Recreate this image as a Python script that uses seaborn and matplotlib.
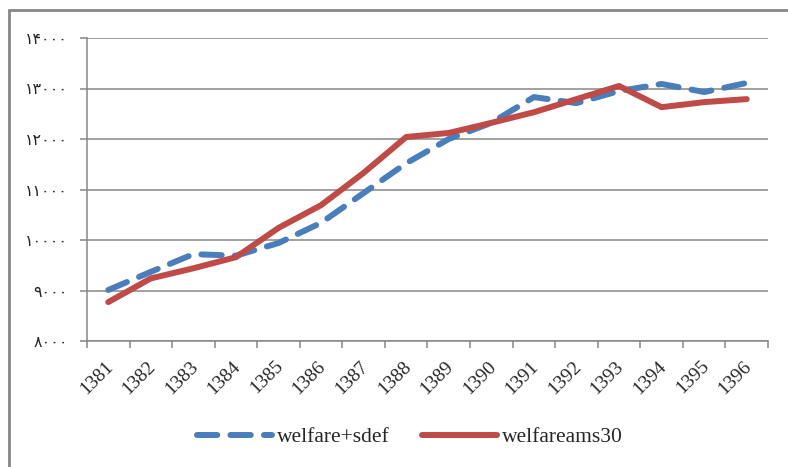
import seaborn as sns
import pandas as pd
import matplotlib.pyplot as plt
import matplotlib.transforms as mtrans
from matplotlib.patches import Rectangle
from matplotlib.lines import Line2D

years = [str(y) for y in range(1381, 1397)]
welfare_sdef = [9010, 9370, 9720, 9690, 9940, 10340, 10930, 11520,
                12000, 12320, 12830, 12710, 12950, 13090, 12930, 13110]
welfare_ams30 = [8770, 9240, 9440, 9660, 10240, 10690, 11330, 12040,
                 12120, 12320, 12530, 12790, 13050, 12630, 12730, 12790]
y_ticks = [8000, 9000, 10000, 11000, 12000, 13000, 14000]
y_labels = ["۸۰۰۰", "۹۰۰۰", "۱۰۰۰۰", "۱۱۰۰۰", "۱۲۰۰۰", "۱۳۰۰۰", "۱۴۰۰۰"]

blue = "#4a7ebb"
red = "#be4b48"
grid_c = "#868686"

df = pd.DataFrame({"year": years, "sdef": welfare_sdef, "ams30": welfare_ams30})

sns.set_style("white")
plt.rcParams["font.family"] = ["Liberation Serif", "DejaVu Sans"]

fig = plt.figure(figsize=(7.88, 4.67), dpi=100)
ax = fig.add_axes([87 / 788, 1 - 341 / 467, (768 - 87) / 788, (341 - 38) / 467])

dash = (0, (3.4, 2.2))
sns.lineplot(data=df, x="year", y="sdef", ax=ax, color=blue, lw=4.3, sort=False)
ax.lines[-1].set_linestyle(dash)
ax.lines[-1].set_dash_capstyle("round")
sns.lineplot(data=df, x="year", y="ams30", ax=ax, color=red, lw=4.3, sort=False)
ax.lines[-1].set_solid_capstyle("round")

ax.set_xlim(-0.5, len(years) - 0.5)
ax.set_ylim(8000, 14000)
ax.set_yticks(y_ticks)
ax.set_yticklabels(y_labels, family=["DejaVu Sans"], fontsize=11.5)
ax.yaxis.grid(True, color=grid_c, lw=1.1)
ax.set_axisbelow(True)

ax.set_xticks(range(len(years)))
ax.set_xticklabels(years, rotation=45, fontsize=14, ha="right",
                   rotation_mode="anchor")
ax.set_xticks([i - 0.5 for i in range(len(years) + 1)], minor=True)
ax.tick_params(axis="x", which="major", length=0, pad=12)
ax.tick_params(axis="x", which="minor", length=5, color=grid_c, width=1.1,
               direction="out", bottom=True)
ax.tick_params(axis="y", length=5, color=grid_c, width=1.1, direction="out",
               left=True, pad=9)
shift = mtrans.ScaledTranslation(-4 / 100, 0, fig.dpi_scale_trans)
for lab in ax.get_xticklabels():
    lab.set_transform(lab.get_transform() + shift)

for s in ["top", "right"]:
    ax.spines[s].set_visible(False)
for s in ["left", "bottom"]:
    ax.spines[s].set_color(grid_c)
    ax.spines[s].set_linewidth(1.1)
ax.set_xlabel("")
ax.set_ylabel("")

handles = [
    Line2D([], [], color=blue, lw=4.3, linestyle=dash, dash_capstyle="round"),
    Line2D([], [], color=red, lw=4.3, solid_capstyle="round"),
]
fig.legend(handles, ["welfare+sdef", "welfareams30"], loc="center",
           bbox_to_anchor=(0.52, 1 - 437 / 467), ncol=2, frameon=False,
           fontsize=15.5, handlelength=3.5, handletextpad=0.2, columnspacing=1.5)

fig.patches.append(Rectangle((9 / 788, -0.1), 1.2, 1 - 10 / 467 + 0.1,
                             transform=fig.transFigure, fill=False,
                             edgecolor=grid_c, lw=2))

fig.savefig("out.png", dpi=100)
